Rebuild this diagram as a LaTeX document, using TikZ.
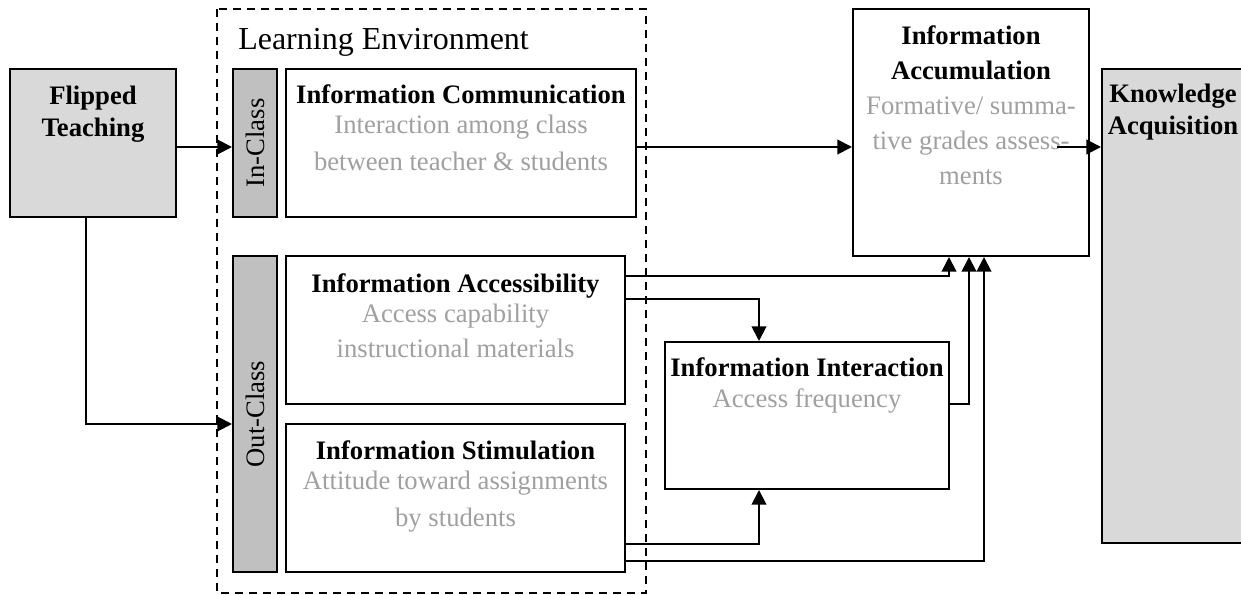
\documentclass[tikz,border=0pt]{standalone}
\usepackage{fontspec}
\setmainfont{Liberation Serif}
\usetikzlibrary{arrows.meta,fit,calc}
\definecolor{fillA}{HTML}{D9D9D9}
\definecolor{fillB}{HTML}{C0C0C0}
\definecolor{greytxt}{HTML}{A0A0A0}
\begin{document}
\begin{tikzpicture}[x=0.75pt,y=-0.75pt,
  box/.style={draw, line width=1.5pt, inner sep=0pt},
  ttl/.style={font=\fontsize{20}{24}\selectfont\bfseries, anchor=base, inner sep=0pt},
  sub/.style={font=\fontsize{20}{24}\selectfont, text=greytxt, anchor=base, inner sep=0pt},
  barlbl/.style={font=\fontsize{20}{24}\selectfont, rotate=90, inner sep=0pt},
  arr/.style={line width=1.5pt, -{Triangle[length=11pt,width=11pt]}},
  envbox/.style={draw, line width=1.5pt, dash pattern=on 6pt off 4.5pt}]
\fill[white] (0,0) rectangle (1241,595);
\useasboundingbox (0,0) rectangle (1241,595);

% dashed learning environment
\draw[envbox] (217,9) rectangle (646,593);
\node[anchor=base west, inner sep=0pt, font=\fontsize{24}{28}\selectfont] (le) at (238,50) {Learning Environment};

% boxes
\node[box, fill=fillA, fit={(10,69) (176,217)}] (flip) {};
\node[box, fill=fillB, fit={(233,69) (277,217)}] (inbar) {};
\node[box, fit={(286,69) (636,217)}] (comm) {};
\node[box, fill=fillB, fit={(233,256) (277,572)}] (outbar) {};
\node[box, fit={(286,256) (625,404)}] (access) {};
\node[box, fit={(286,424) (625,572)}] (stim) {};
\node[box, fit={(665,342) (949,489)}] (inter) {};
\node[box, fit={(853,9) (1089,256)}] (accum) {};
\node[box, fill=fillA, fit={(1102,69) (1246,543)}] (know) {};

% texts
\node[ttl] (flipA) at (93,105) {Flipped};
\node[ttl] (flipB) at (93,137) {Teaching};

\node[barlbl] (inlbl) at (inbar) {In-Class};
\node[barlbl] (outlbl) at (outbar) {Out-Class};

\node[ttl] (commT) at (461,104) {Information Communication};
\node[sub] (commA) at (461,134) {Interaction among class};
\node[sub] (commB) at (461,171) {between teacher \& students};

\node[ttl] (accT) at (455.5,292) {Information Accessibility};
\node[sub] (accA) at (455.5,322) {Access capability};
\node[sub] (accB) at (455.5,357) {instructional materials};

\node[ttl] (stimT) at (455.5,459) {Information Stimulation};
\node[sub] (stimA) at (455.5,489) {Attitude toward assignments};
\node[sub] (stimB) at (455.5,526) {by students};

\node[ttl] (intT) at (807,376) {Information Interaction};
\node[sub] (intA) at (807,407) {Access frequency};

\node[ttl] (acuT) at (971,45) {Information};
\node[ttl] (acuT2) at (971,80) {Accumulation};
\node[sub] (acuA) at (971,115) {Formative/ summa-};
\node[sub] (acuB) at (971,150) {tive grades assess-};
\node[sub] (acuC) at (971,185) {ments};

\node[ttl] (knA) at (1173,103) {Knowledge};
\node[ttl] (knB) at (1173,135) {Acquisition};

% connectors
\coordinate (rowA) at ($(flip.east)+(0,4)$);
\draw[arr] (rowA) -- (rowA -| inbar.west);
\draw[arr] ($(flip.south)+(-7,0)$) |- ($(outbar.west)+(0,10)$);
\coordinate (cmstart) at ($(comm.east)+(0,4)$);
\draw[arr] (cmstart) -- (cmstart -| accum.west);
\coordinate (akstart) at (1057,147);
\draw[arr] (akstart) -- (akstart -| know.west);
\draw[arr] ($(access.east)+(0,-54)$) -| ($(accum.south)+(-22,0)$);
\draw[arr] ($(access.east)+(0,-31)$) -| ($(inter.north)+(-48,0)$);
\draw[arr] ($(inter.east)+(0,-11.5)$) -| ($(accum.south)+(-2,0)$);
\draw[arr] ($(stim.east)+(0,46)$) -| ($(inter.south)+(-48,0)$);
\draw[arr] ($(stim.east)+(0,63)$) -| ($(accum.south)+(13,0)$);
\end{tikzpicture}
\end{document}
